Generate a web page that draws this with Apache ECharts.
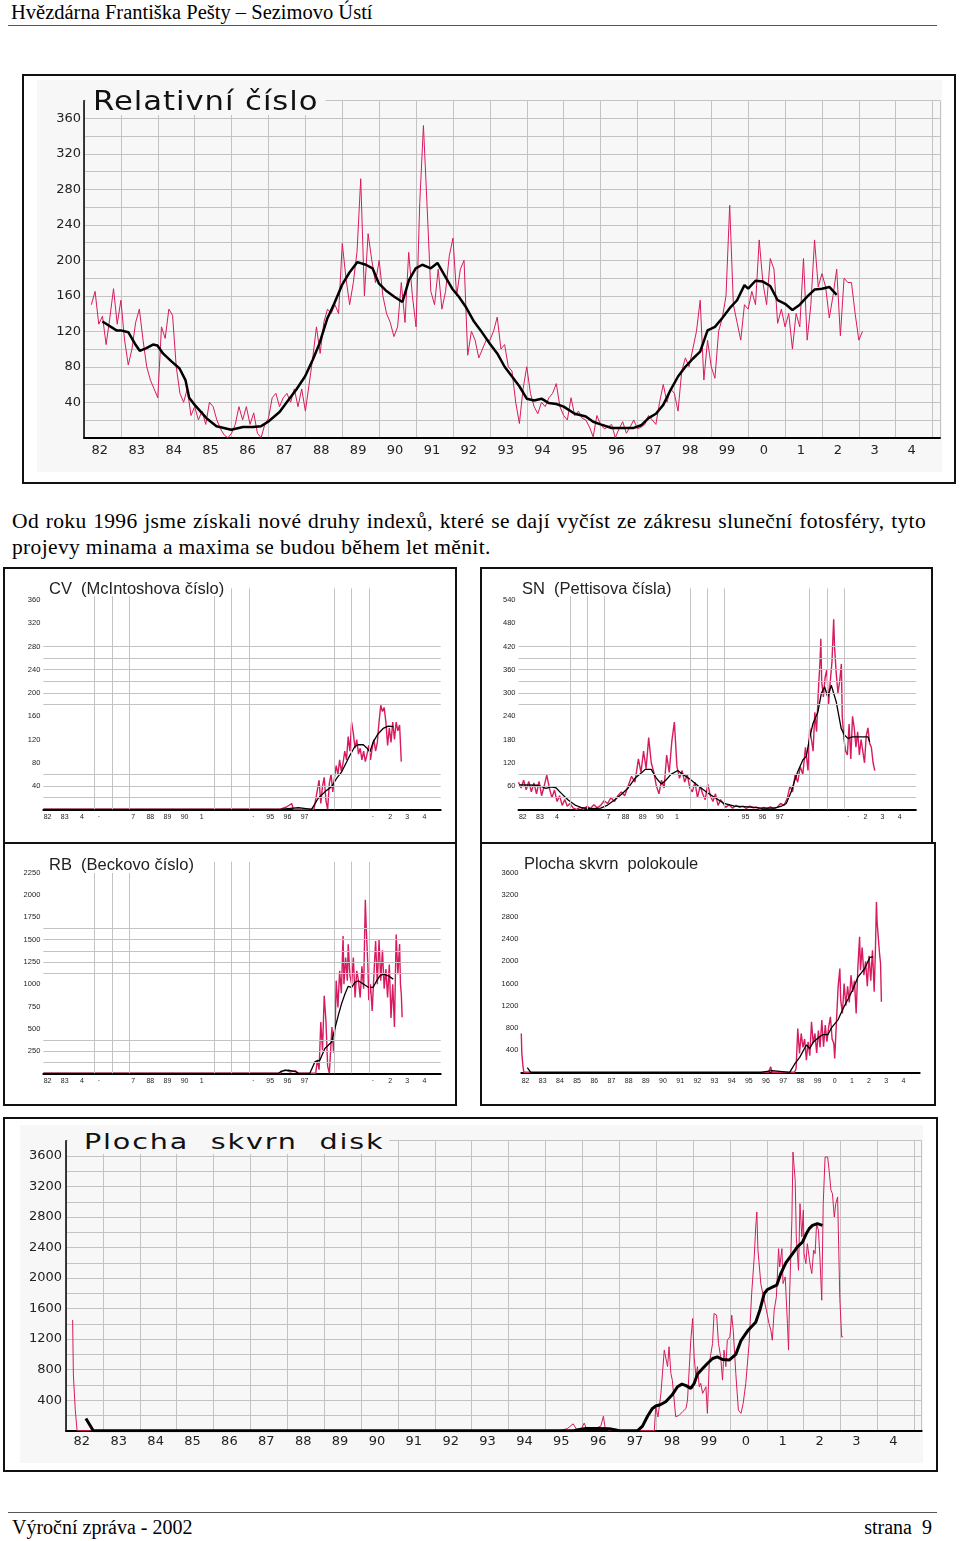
<!DOCTYPE html>
<html lang="cs">
<head>
<meta charset="utf-8">
<title>Hvězdárna Františka Pešty – Sezimovo Ústí</title>
<script src="https://cdn.jsdelivr.net/npm/echarts@6/dist/echarts.min.js"></script>
<style>
  html, body { margin: 0; padding: 0; background: #fff; }
  body { width: 960px; height: 1541px; position: relative; overflow: hidden;
         font-family: 'Liberation Serif', 'DejaVu Serif', serif; color: #000; }
  .abs { position: absolute; white-space: nowrap; }
  .rule { position: absolute; left: 8px; width: 929px; height: 1px; background: #555; }
  .box { position: absolute; box-sizing: border-box; border: 2px solid #111; background: #fff; }
  .panel { position: absolute; background: #f7f7f7; }
  .chart { position: absolute; }
  .title-big { position: absolute; font-family: 'DejaVu Sans', sans-serif; color: #111;
               white-space: pre; transform-origin: 0 0; background: #f7f7f7; }
  .title-small { position: absolute; font-family: 'Liberation Sans', sans-serif; font-size: 16.5px;
                 line-height: 16.5px; color: #222; background: #fff; white-space: pre; padding: 0 2px; }
  .para { position: absolute; left: 12px; width: 914px; font-size: 21.5px; line-height: 25.5px;
          letter-spacing: 0.35px; white-space: nowrap; }
  .para .l1 { text-align: justify; text-align-last: justify; white-space: normal; }
</style>
</head>
<body>

<div class="abs" style="left:11px;top:1px;font-size:20.5px;line-height:22px;">Hvězdárna Františka Pešty – Sezimovo Ústí</div>
<div class="rule" style="top:25px"></div>

<!-- Relativní číslo -->
<div class="box" style="left:22px;top:74px;width:934px;height:410px"></div>
<div class="panel" style="left:37px;top:80px;width:905px;height:392px"></div>
<div id="chartRel" class="chart" style="left:22px;top:74px;width:934px;height:410px"></div>
<div class="title-big" style="left:86px;top:86px;font-size:26px;line-height:27px;padding:2px 6px 0 6px;letter-spacing:0.8px;transform:scaleX(1.18)">Relativní číslo</div>

<div class="para" style="top:509px;">
  <div class="l1">Od roku 1996 jsme získali nové druhy indexů, které se dají vyčíst ze zákresu sluneční fotosféry, tyto</div>
  <div>projevy minama a maxima se budou během let měnit.</div>
</div>

<!-- CV -->
<div class="box" style="left:3px;top:567px;width:454px;height:278px"></div>
<div id="chartCV" class="chart" style="left:3px;top:567px;width:454px;height:278px"></div>
<div class="title-small" style="left:47px;top:579.5px">CV  (McIntoshova číslo)</div>

<!-- SN -->
<div class="box" style="left:480px;top:567px;width:453px;height:277px"></div>
<div id="chartSN" class="chart" style="left:480px;top:567px;width:453px;height:277px"></div>
<div class="title-small" style="left:520px;top:579.5px">SN  (Pettisova čísla)</div>

<!-- RB -->
<div class="box" style="left:3px;top:842px;width:454px;height:264px"></div>
<div id="chartRB" class="chart" style="left:3px;top:842px;width:454px;height:264px"></div>
<div class="title-small" style="left:47px;top:856px">RB  (Beckovo číslo)</div>

<!-- Plocha skvrn polokoule -->
<div class="box" style="left:480px;top:842px;width:456px;height:264px"></div>
<div id="chartHalf" class="chart" style="left:480px;top:842px;width:456px;height:264px"></div>
<div class="title-small" style="left:522px;top:854.5px">Plocha skvrn  polokoule</div>

<!-- Plocha skvrn disk -->
<div class="box" style="left:3px;top:1117px;width:935px;height:355px"></div>
<div class="panel" style="left:20px;top:1125px;width:903px;height:338px"></div>
<div id="chartDisk" class="chart" style="left:3px;top:1117px;width:935px;height:355px"></div>
<div class="title-big" style="left:68px;top:1128px;font-size:22px;line-height:23px;padding:1.6px 4px 1px 12.3px;letter-spacing:1.4px;transform:scaleX(1.3)">Plocha  skvrn  disk</div>

<div class="rule" style="top:1512px"></div>
<div class="abs" style="left:12px;top:1514px;font-size:20px;line-height:26px;">Výroční zpráva - 2002</div>
<div class="abs" style="right:28px;top:1514px;font-size:20px;line-height:26px;white-space:pre;">strana  9</div>

<script>
// tick labels
const yearTicks = ['82','83','84','85','86','87','88','89','90','91','92','93',
                   '94','95','96','97','98','99','0','1','2','3','4'];
const smallYearTicks = ['82','83','4','·','','7','88','89','90','1','','','·',
                        '95','96','97','','','','·','2','3','4'];
const relYLabels = [40, 80, 120, 160, 200, 240, 280, 320, 360];
const cvYLabels = [40, 80, 120, 160, 200, 240, 280, 320, 360];
const snYLabels = [60, 120, 180, 240, 300, 360, 420, 480, 540];
const rbYLabels = [250, 500, 750, 1000, 1250, 1500, 1750, 2000, 2250];
const areaYLabels = [400, 800, 1200, 1600, 2000, 2400, 2800, 3200, 3600];

// Relativní číslo – monthly-ish values from 1982.2, one every 0.1 year
const relRedStart = 1982.2;
const relRedStep = 0.1;
const relRed = [
  150,165,128,137,105,135,168,128,
  155,110,82,100,130,145,110,80,65,55,
  45,125,112,145,138,80,50,40,55,25,
  35,20,30,15,40,35,20,10,3,0,
  5,15,35,20,35,15,28,5,0,15,
  22,45,50,35,45,50,40,55,35,55,
  30,60,90,125,95,130,145,140,150,140,
  219,180,150,175,210,292,160,230,200,175,
  200,160,140,130,114,125,175,130,209,160,
  125,265,352,260,165,150,190,145,165,205,
  225,160,190,200,93,120,110,90,100,110,
  110,120,136,100,105,80,75,40,16,55,
  80,50,35,27,40,35,45,50,61,35,
  25,20,45,25,30,22,20,12,1,25,
  15,10,12,15,0,10,18,5,12,20,
  10,12,15,25,20,15,40,60,40,55,
  50,30,75,90,80,100,120,155,65,110,
  80,67,120,135,160,262,150,130,110,150,
  145,165,150,223,175,150,202,190,129,145,
  125,140,100,140,125,202,110,150,223,170,
  185,170,135,160,190,115,180,175,175,140,
  110,120
];
const relSmooth = [
  [1982.5,131],[1982.88,121],[1983.0,121],[1983.2,119],[1983.38,106],[1983.51,98],[1983.69,101],
  [1983.87,105],[1983.99,104],[1984.14,95],[1984.37,86],[1984.59,78],[1984.75,65],[1984.85,45],
  [1985.0,37],[1985.32,22],[1985.59,13],[1985.99,9],[1986.31,12],[1986.58,12],[1986.8,13],
  [1986.99,18],[1987.3,29],[1987.48,39],[1987.75,54],[1987.99,69],[1988.2,88],[1988.38,106],
  [1988.6,135],[1988.78,151],[1988.99,172],[1989.19,186],[1989.41,198],[1989.64,195],[1989.82,191],
  [1989.99,174],[1990.18,166],[1990.41,159],[1990.63,153],[1990.81,178],[1990.99,191],[1991.17,195],
  [1991.4,191],[1991.58,197],[1991.8,181],[1991.98,168],[1992.16,159],[1992.34,148],[1992.57,131],
  [1992.75,121],[1993.0,106],[1993.2,95],[1993.4,80],[1993.6,69],[1993.8,58],[1994.0,44],
  [1994.2,42],[1994.4,44],[1994.6,39],[1994.8,38],[1995.0,35],[1995.3,27],[1995.6,24],[1995.8,18],
  [1996.0,15],[1996.3,11],[1996.6,11],[1996.9,11],[1997.1,14],[1997.3,22],[1997.5,27],[1997.7,37],
  [1997.9,54],[1998.1,69],[1998.3,80],[1998.5,89],[1998.7,97],[1998.9,121],[1999.1,125],[1999.3,135],
  [1999.5,146],[1999.7,155],[1999.9,172],[2000.0,168],[2000.2,177],[2000.4,176],[2000.6,171],
  [2000.8,155],[2001.0,151],[2001.2,144],[2001.4,150],[2001.6,159],[2001.8,167],[2002.0,168],
  [2002.2,170],[2002.4,161]
];

// CV (McIntoshova číslo)
const cvRed = [
  [1982.0,0],[1982.3,0],[1995.8,0],[1996.2,4],[1996.5,10],[1996.6,0],[1997.8,0],[1997.95,25],
  [1998.1,50],[1998.2,10],[1998.3,40],[1998.4,55],[1998.5,15],[1998.6,0],[1998.7,45],[1998.8,60],
  [1998.9,30],[1999.0,55],[1999.1,75],[1999.2,60],[1999.3,85],[1999.4,65],[1999.5,80],[1999.6,100],
  [1999.7,85],[1999.8,125],[1999.9,100],[2000.0,150],[2000.1,130],[2000.2,105],[2000.3,120],
  [2000.4,95],[2000.5,105],[2000.6,85],[2000.7,100],[2000.8,82],[2000.9,95],[2001.0,110],
  [2001.1,85],[2001.2,105],[2001.3,120],[2001.4,100],[2001.5,115],[2001.6,150],[2001.7,179],
  [2001.8,168],[2001.9,175],[2002.0,150],[2002.1,110],[2002.2,140],[2002.3,115],[2002.4,150],
  [2002.5,120],[2002.6,150],[2002.7,135],[2002.8,145],[2002.9,82]
];
const cvSmooth = [
  [1982.0,0],[1995.8,0],[1995.9,3],[1996.9,3],[1997.0,0],[1997.66,0],[1998.05,19],[1998.44,30],
  [1998.83,39],[1999.12,53],[1999.41,64],[1999.7,81],[1999.9,93],[2000.19,108],[2000.39,111],
  [2000.68,111],[2000.87,106],[2001.07,99],[2001.26,116],[2001.55,130],[2001.84,139],
  [2002.14,143],[2002.43,142]
];
const cvHLines = [20, 40, 60, 180, 200, 220, 240, 260, 280];

// SN (Pettisova čísla)
const snRed = [
  [1982.0,70],[1982.15,55],[1982.3,75],[1982.45,50],[1982.6,72],[1982.75,45],[1982.9,68],
  [1983.05,40],[1983.2,72],[1983.35,35],[1983.5,60],[1983.65,88],[1983.8,55],[1983.95,30],
  [1984.1,50],[1984.25,20],[1984.4,35],[1984.55,10],[1984.7,25],[1984.85,8],[1985.0,15],
  [1985.2,3],[1985.4,0],[1985.6,5],[1985.8,0],[1986.0,8],[1986.2,2],[1986.4,12],[1986.6,4],
  [1986.8,10],[1987.0,22],[1987.2,15],[1987.4,30],[1987.6,20],[1987.8,35],[1988.0,45],
  [1988.2,35],[1988.4,60],[1988.6,85],[1988.8,70],[1989.0,130],[1989.15,95],[1989.3,150],
  [1989.45,105],[1989.6,185],[1989.75,120],[1989.9,95],[1990.05,60],[1990.2,40],[1990.35,75],
  [1990.5,55],[1990.65,140],[1990.8,95],[1990.95,175],[1991.1,225],[1991.25,110],[1991.4,80],
  [1991.55,100],[1991.7,70],[1991.85,90],[1992.0,55],[1992.15,45],[1992.3,70],[1992.45,30],
  [1992.6,60],[1992.75,40],[1992.9,25],[1993.05,65],[1993.2,35],[1993.35,20],[1993.5,40],
  [1993.65,10],[1993.8,25],[1993.95,15],[1994.1,5],[1994.3,12],[1994.5,3],[1994.7,10],
  [1994.9,5],[1995.1,8],[1995.3,2],[1995.5,8],[1995.7,4],[1995.9,6],[1996.1,0],[1996.3,5],
  [1996.5,2],[1996.7,6],[1996.9,3],[1997.1,5],[1997.3,15],[1997.5,10],[1997.7,30],[1997.85,60],
  [1998.0,45],[1998.15,90],[1998.3,70],[1998.45,110],[1998.6,90],[1998.75,160],[1998.9,100],
  [1999.0,210],[1999.1,180],[1999.2,150],[1999.3,250],[1999.4,200],[1999.5,300],[1999.6,380],
  [1999.65,440],[1999.7,330],[1999.8,290],[1999.9,340],[2000.0,360],[2000.1,270],[2000.2,330],
  [2000.3,380],[2000.4,490],[2000.45,420],[2000.55,350],[2000.65,300],[2000.75,330],[2000.85,375],
  [2000.9,240],[2001.0,180],[2001.1,150],[2001.2,140],[2001.3,220],[2001.4,130],[2001.5,240],
  [2001.6,210],[2001.7,160],[2001.8,200],[2001.9,140],[2002.0,180],[2002.1,150],[2002.2,120],
  [2002.3,190],[2002.4,210],[2002.5,170],[2002.6,160],[2002.7,120],[2002.8,100]
];
const snSmooth = [
  [1982.05,63],[1983.14,62],[1983.6,54],[1983.9,58],[1984.2,55],[1984.5,41],[1984.9,24],
  [1985.3,11],[1985.7,4],[1986.25,2],[1986.8,3],[1987.2,11],[1987.6,24],[1988.0,38],[1988.4,55],
  [1988.8,80],[1989.2,95],[1989.4,103],[1989.75,103],[1990.05,80],[1990.35,65],[1990.6,75],
  [1990.9,90],[1991.3,100],[1991.6,90],[1992.0,78],[1992.5,60],[1993.05,42],[1993.55,28],
  [1994.0,15],[1994.6,8],[1995.4,6],[1996.2,3],[1996.95,3],[1997.35,8],[1997.63,15],[1997.92,45],
  [1998.1,71],[1998.3,97],[1998.6,127],[1998.8,136],[1998.99,183],[1999.19,221],[1999.48,251],
  [1999.68,299],[1999.87,316],[2000.05,290],[2000.26,320],[2000.55,277],[2000.84,208],
  [2001.04,191],[2001.23,183],[2001.5,187],[2001.82,187],[2002.4,187],[2002.5,174]
];
const snHLines = [30, 60, 90, 270, 300, 330, 360, 390, 420];

// RB (Beckovo číslo)
const rbRed = [
  [1982.0,0],[1982.3,0],[1995.8,0],[1996.1,40],[1996.4,15],[1996.7,30],[1996.9,0],[1997.9,0],
  [1998.0,150],[1998.1,40],[1998.2,575],[1998.3,260],[1998.4,870],[1998.5,590],[1998.6,80],
  [1998.7,0],[1998.85,520],[1998.95,230],[1999.05,620],[1999.1,1040],[1999.2,740],[1999.3,1150],
  [1999.4,900],[1999.5,1540],[1999.55,1000],[1999.65,1300],[1999.75,1040],[1999.8,1447],
  [1999.9,1100],[2000.0,1000],[2000.1,1300],[2000.2,850],[2000.3,1150],[2000.4,1040],[2000.5,850],
  [2000.6,1200],[2000.7,950],[2000.8,1948],[2000.85,1650],[2000.95,1200],[2001.0,820],[2001.1,1000],
  [2001.2,700],[2001.3,1100],[2001.4,1484],[2001.5,1000],[2001.6,1500],[2001.7,1040],[2001.8,1380],
  [2001.9,950],[2002.0,1170],[2002.1,850],[2002.2,1220],[2002.3,620],[2002.4,1000],[2002.5,520],
  [2002.6,1558],[2002.7,1113],[2002.8,1450],[2002.85,1000],[2002.9,890],[2002.95,630]
];
const rbSmooth = [
  [1982.0,0],[1995.75,0],[1995.9,25],[1996.3,35],[1996.7,20],[1996.9,0],[1997.56,0],
  [1997.86,130],[1998.15,148],[1998.44,278],[1998.83,352],[1999.02,500],[1999.22,650],
  [1999.41,779],[1999.61,890],[1999.8,976],[2000.0,965],[2000.19,1020],[2000.39,1039],
  [2000.68,1002],[2000.97,965],[2001.26,965],[2001.46,1039],[2001.65,1094],[2001.84,1113],
  [2002.14,1094],[2002.43,1057]
];
const rbHLines = [125, 250, 375, 1125, 1250, 1375, 1500, 1625];

// vertical grid years shared by CV, SN, RB
const smallVLines = [1985, 1986, 1987, 1992, 1993, 1994, 1999, 2000, 2001];

// Plocha skvrn polokoule
const halfRed = [
  [1982.0,700],[1982.03,340],[1982.1,100],[1982.15,0],[1996.4,0],[1996.52,100],[1996.6,0],
  [1997.9,0],[1998.0,60],[1998.1,790],[1998.2,340],[1998.3,700],[1998.4,450],[1998.5,600],
  [1998.6,220],[1998.7,550],[1998.8,300],[1998.9,910],[1999.0,520],[1999.1,700],[1999.2,350],
  [1999.3,750],[1999.4,450],[1999.5,940],[1999.6,460],[1999.7,850],[1999.8,550],[1999.9,820],
  [2000.0,1000],[2000.1,600],[2000.2,520],[2000.25,250],[2000.35,900],[2000.45,1540],[2000.55,1870],
  [2000.6,1300],[2000.7,1060],[2000.8,1600],[2000.9,1200],[2001.0,1550],[2001.1,1260],[2001.2,1750],
  [2001.3,1450],[2001.4,1650],[2001.5,1060],[2001.6,1900],[2001.7,2440],[2001.75,1840],
  [2001.85,2250],[2001.95,1750],[2002.05,2000],[2002.15,1550],[2002.25,2100],[2002.35,1650],
  [2002.45,2200],[2002.55,1450],[2002.62,2200],[2002.68,3070],[2002.72,2710],[2002.8,2380],
  [2002.87,2110],[2002.92,1960],[2002.97,1270]
];
const halfSmooth = [
  [1982.35,85],[1982.55,0],[1995.95,0],[1996.05,30],[1996.6,30],[1996.7,0],[1997.63,0],
  [1997.92,150],[1998.21,270],[1998.6,492],[1998.8,430],[1998.99,540],[1999.28,620],[1999.57,680],
  [1999.86,680],[2000.06,800],[2000.45,950],[2000.74,1150],[2001.03,1320],[2001.32,1500],
  [2001.61,1720],[2002.0,1870],[2002.29,2070],[2002.49,2080]
];

// Plocha skvrn disk
const diskRed = [
  [1982.18,1450],[1982.2,730],[1982.25,280],[1982.3,0],[1982.7,0],[1995.4,0],[1995.6,30],
  [1995.75,90],[1995.85,10],[1995.95,0],[1996.05,100],[1996.1,40],[1996.3,20],[1996.5,60],
  [1996.57,190],[1996.62,30],[1996.75,0],[1997.95,0],[1997.99,310],[1998.05,180],[1998.13,490],
  [1998.22,1055],[1998.31,840],[1998.35,1100],[1998.4,750],[1998.44,660],[1998.53,183],
  [1998.62,200],[1998.72,250],[1998.81,292],[1998.85,400],[1998.9,837],[1998.94,1186],
  [1998.99,1470],[1999.03,968],[1999.08,707],[1999.12,840],[1999.17,575],[1999.21,620],
  [1999.26,489],[1999.35,575],[1999.39,227],[1999.44,880],[1999.53,1143],[1999.57,1535],
  [1999.64,1515],[1999.69,1143],[1999.75,968],[1999.8,663],[1999.84,1056],[1999.89,840],
  [1999.93,1186],[2000.0,1230],[2000.05,1514],[2000.09,1317],[2000.16,750],[2000.23,270],
  [2000.3,227],[2000.36,358],[2000.43,619],[2000.52,1143],[2000.59,1797],[2000.66,2277],
  [2000.7,2670],[2000.73,2866],[2000.76,2370],[2000.84,1920],[2000.93,1710],[2000.99,1579],
  [2001.06,1404],[2001.11,1317],[2001.15,1186],[2001.2,1579],[2001.26,1754],[2001.32,2386],
  [2001.35,2146],[2001.41,2386],[2001.44,1928],[2001.5,2015],[2001.56,1404],[2001.59,1056],
  [2001.62,1806],[2001.68,2757],[2001.71,3651],[2001.77,3280],[2001.8,2540],[2001.86,2102],
  [2001.9,2975],[2001.95,2540],[2001.99,2890],[2002.01,2320],[2002.06,2190],[2002.1,2450],
  [2002.17,2190],[2002.22,2059],[2002.27,2365],[2002.31,2320],[2002.35,2713],[2002.4,2626],
  [2002.44,2277],[2002.49,1710],[2002.53,2975],[2002.58,3586],[2002.65,3586],[2002.69,3411],
  [2002.74,3150],[2002.78,3106],[2002.83,2800],[2002.87,2975],[2002.92,3063],[2002.94,2626],
  [2002.98,1732],[2003.03,1230],[2003.07,1230]
];
const diskSmooth = [
  [1982.54,160],[1982.74,0],[1995.76,0],[1995.92,15],[1996.1,30],[1996.41,30],[1996.73,25],
  [1996.91,10],[1997.0,0],[1997.5,0],[1997.63,60],[1997.77,192],[1997.9,292],[1997.99,323],
  [1998.11,340],[1998.26,380],[1998.43,467],[1998.58,576],[1998.7,610],[1998.81,590],
  [1998.94,554],[1999.03,619],[1999.12,741],[1999.26,815],[1999.39,881],[1999.53,946],
  [1999.66,968],[1999.8,933],[1999.98,925],[2000.16,1000],[2000.3,1180],[2000.5,1320],
  [2000.7,1420],[2000.82,1592],[2000.93,1797],[2001.02,1850],[2001.15,1880],[2001.27,1906],
  [2001.38,2059],[2001.52,2203],[2001.7,2320],[2001.83,2408],[2001.97,2473],[2002.06,2570],
  [2002.15,2648],[2002.24,2691],[2002.37,2713],[2002.51,2690]
];

const GRID_COLOR = '#c3c3c3';
const RED = '#d81a60';

function lineSeries(data, color, width, z) {
  return {
    type: 'line', data: data, showSymbol: false, symbol: 'none', silent: true, z: z,
    lineStyle: { color: color, width: width }, itemStyle: { color: color }
  };
}

function gridSeries(values, axis) {
  return {
    type: 'line', data: [], z: 1, silent: true,
    markLine: {
      silent: true, symbol: ['none', 'none'], label: { show: false }, animation: false,
      lineStyle: { color: GRID_COLOR, width: 1, type: 'solid' },
      emphasis: { disabled: true },
      data: values.map(v => axis === 'x' ? { xAxis: v } : { yAxis: v })
    }
  };
}

function buildChart(id, cfg) {
  const chart = echarts.init(document.getElementById(id), null, { renderer: 'canvas' });
  const series = [];
  if (cfg.vLines) series.push(gridSeries(cfg.vLines, 'x'));
  if (cfg.hLines) series.push(gridSeries(cfg.hLines, 'y'));
  series.push(lineSeries(cfg.red, RED, cfg.redWidth, 3));
  series.push(lineSeries(cfg.smooth, '#000', cfg.smoothWidth, 4));
  chart.setOption({
    animation: false,
    grid: Object.assign({ containLabel: false }, cfg.grid),
    xAxis: {
      type: 'value', min: 1982, max: 2005.2, interval: 1,
      axisLine: { show: true, onZero: false, lineStyle: { color: '#000', width: 2 } },
      axisTick: { show: false },
      splitLine: { show: !!cfg.gridSplit, lineStyle: { color: GRID_COLOR, width: 1 } },
      axisLabel: {
        customValues: cfg.xTicks.map((t, i) => 1982 + i + cfg.xShift),
        formatter: v => {
          const t = cfg.xTicks[Math.floor(v + 1e-6) - 1982];
          return t === undefined ? '' : t;
        },
        fontFamily: cfg.font, fontSize: cfg.xSize, color: '#222', margin: cfg.xMargin
      }
    },
    yAxis: {
      type: 'value', min: 0, max: cfg.yMax, interval: cfg.yStep,
      axisLine: { show: !!cfg.yLine, lineStyle: { color: '#000', width: 1.5 } },
      axisTick: { show: false },
      splitLine: { show: !!cfg.gridSplit, lineStyle: { color: GRID_COLOR, width: 1 } },
      axisLabel: {
        customValues: cfg.yLabels,
        formatter: v => (cfg.yLabels.indexOf(v) >= 0 ? String(v) : ''),
        fontFamily: cfg.font, fontSize: cfg.ySize, color: '#222', margin: cfg.yMargin
      }
    },
    series: series
  });
  return chart;
}

const relPoints = relRed.map((v, i) => [relRedStart + i * relRedStep, v]);

buildChart('chartRel', {
  grid: { left: 62, top: 26.7, width: 856, height: 337 },
  yMax: 380, yStep: 20, yLabels: relYLabels, yLine: true, gridSplit: true,
  xTicks: yearTicks, xShift: 0.43, font: 'DejaVu Sans', xSize: 13, ySize: 13,
  xMargin: 6, yMargin: 3, red: relPoints, smooth: relSmooth, redWidth: 1, smoothWidth: 2.5
});

const smallCommon = {
  font: 'Liberation Sans', xSize: 7, ySize: 7.5, xMargin: 4, yMargin: 3,
  redWidth: 1.4, smoothWidth: 1.3
};

buildChart('chartCV', Object.assign({}, smallCommon, {
  grid: { left: 40.3, top: 21.3, width: 397.4, height: 221 },
  yMax: 380, yStep: 20, yLabels: cvYLabels, xTicks: smallYearTicks, xShift: 0.25,
  vLines: smallVLines, hLines: cvHLines, red: cvRed, smooth: cvSmooth
}));

buildChart('chartSN', Object.assign({}, smallCommon, {
  grid: { left: 38.5, top: 21.3, width: 397.4, height: 221 },
  yMax: 570, yStep: 30, yLabels: snYLabels, xTicks: smallYearTicks, xShift: 0.25,
  vLines: smallVLines, hLines: snHLines, red: snRed, smooth: snSmooth
}));

buildChart('chartRB', Object.assign({}, smallCommon, {
  grid: { left: 40.3, top: 19.7, width: 397.4, height: 211.6 },
  yMax: 2375, yStep: 125, yLabels: rbYLabels, xTicks: smallYearTicks, xShift: 0.25,
  vLines: smallVLines, hLines: rbHLines, red: rbRed, smooth: rbSmooth
}));

buildChart('chartHalf', Object.assign({}, smallCommon, {
  grid: { left: 41.3, top: 19.4, width: 398.4, height: 210.9 },
  yMax: 3800, yStep: 200, yLabels: areaYLabels, xTicks: yearTicks, xShift: 0.25,
  xMargin: 5, red: halfRed, smooth: halfSmooth
}));

buildChart('chartDisk', {
  grid: { left: 63, top: 23.7, width: 855.7, height: 290 },
  yMax: 3800, yStep: 200, yLabels: areaYLabels, yLine: true, gridSplit: true,
  xTicks: yearTicks, xShift: 0.43, font: 'DejaVu Sans', xSize: 13, ySize: 13,
  xMargin: 4.5, yMargin: 4, red: diskRed, smooth: diskSmooth, redWidth: 1, smoothWidth: 3
});
</script>
</body>
</html>
